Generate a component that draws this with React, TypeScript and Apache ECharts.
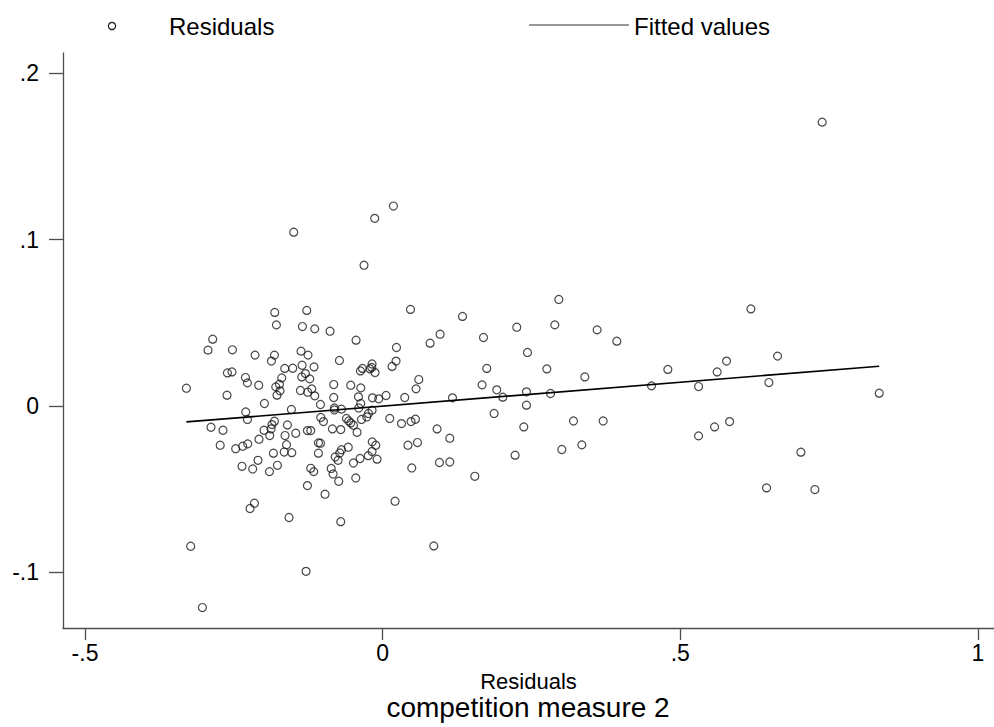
import React, { useEffect, useRef } from 'react';
import * as echarts from 'echarts';

const residualX = [
  -0.3297, -0.2855, -0.2934, -0.2524, -0.2144, -0.1818, -0.1869, -0.1371, -0.1254, -0.1354,
  -0.1153, -0.1645, -0.1511, -0.1297, -0.1359, -0.1225, -0.2608, -0.2531, -0.2305, -0.2272,
  -0.2082, -0.1696, -0.1734, -0.1796, -0.1724, -0.1775, -0.1381, -0.1259, -0.1191, -0.1141,
  -0.2615, -0.1986, -0.1533, -0.1045, -0.2300, -0.2272, -0.1818, -0.1859, -0.1993, -0.1875,
  -0.1600, -0.1040, -0.0995, -0.2884, -0.2682, -0.1460, -0.1264, -0.1208, -0.1640, -0.1897,
  -0.2077, -0.2729, -0.2469, -0.2351, -0.2267, -0.1835, -0.1654, -0.1527, -0.1615, -0.1079,
  -0.1045, -0.1079, -0.2094, -0.1813, -0.1275, -0.1785, -0.1348, -0.1141, -0.2363, -0.2183,
  -0.1902, -0.1768, -0.1208, -0.1158, -0.1264, -0.0968, -0.2154, -0.2228, -0.1573, -0.3225,
  -0.1287, -0.3028, -0.0864, 0.0467, 0.1341, -0.0884, -0.0447, 0.0965, 0.0797, 0.0232,
  0.0225, 0.0158, -0.0726, -0.0178, -0.0373, -0.0339, -0.0212, -0.0183, -0.0128, 0.0607,
  0.0561, -0.0822, -0.0536, -0.0368, -0.0822, -0.0407, -0.0171, -0.0066, 0.0057, 0.0371,
  0.1173, -0.0810, -0.0810, -0.0692, -0.0368, -0.0402, -0.0178, -0.0608, -0.0570, -0.0536,
  -0.0491, -0.0239, -0.0267, -0.0356, 0.0119, 0.0316, 0.0477, 0.0551, -0.0844, -0.0704,
  -0.0430, 0.0914, 0.1128, -0.0175, -0.0116, 0.0425, 0.0585, -0.0578, -0.0692, -0.0721,
  -0.0797, -0.0749, -0.0178, -0.0242, -0.0094, -0.0380, -0.0491, -0.0833, -0.0738, -0.0452,
  0.0489, 0.0954, 0.1128, 0.0208, -0.0704, 0.0859, 0.0181, -0.0133, -0.0313, 0.2959,
  0.2253, 0.2892, 0.3603, 0.3934, 0.1694, 0.2433, 0.1749, 0.2758, 0.3396, 0.4791,
  0.1670, 0.1917, 0.2018, 0.2416, 0.2820, 0.4517, 0.2416, 0.1872, 0.2371, 0.3206,
  0.3704, 0.2225, 0.3010, 0.3346, 0.1548, 0.6186, 0.5777, 0.5619, 0.6634, 0.5307,
  0.6488, 0.8342, 0.5828, 0.5576, 0.5307, 0.7026, 0.6449, 0.7261, 0.7384, -0.1494,
];

const residualY = [
  0.0106, 0.0401, 0.0335, 0.0337, 0.0305, 0.0305, 0.0269, 0.0329, 0.0305, 0.0244,
  0.0234, 0.0225, 0.0226, 0.0194, 0.0174, 0.0162, 0.0198, 0.0204, 0.0170, 0.0138,
  0.0124, 0.0168, 0.0130, 0.0114, 0.0090, 0.0064, 0.0092, 0.0082, 0.0102, 0.0060,
  0.0064, 0.0014, -0.0022, 0.0008, -0.0037, -0.0082, -0.0093, -0.0113, -0.0147, -0.0139,
  -0.0115, -0.0070, -0.0095, -0.0129, -0.0147, -0.0165, -0.0149, -0.0149, -0.0179, -0.0179,
  -0.0201, -0.0237, -0.0258, -0.0243, -0.0229, -0.0285, -0.0278, -0.0282, -0.0234, -0.0223,
  -0.0225, -0.0285, -0.0328, 0.0562, 0.0574, 0.0487, 0.0477, 0.0463, -0.0364, -0.0380,
  -0.0396, -0.0358, -0.0376, -0.0396, -0.0480, -0.0532, -0.0586, -0.0618, -0.0672, -0.0845,
  -0.0996, -0.1214, -0.0377, 0.0580, 0.0538, 0.0449, 0.0395, 0.0431, 0.0377, 0.0351,
  0.0269, 0.0237, 0.0273, 0.0252, 0.0210, 0.0225, 0.0222, 0.0231, 0.0200, 0.0158,
  0.0102, 0.0128, 0.0124, 0.0108, 0.0050, 0.0054, 0.0048, 0.0042, 0.0062, 0.0050,
  0.0048, -0.0013, -0.0025, -0.0020, 0.0014, -0.0013, -0.0026, -0.0076, -0.0091, -0.0103,
  -0.0117, -0.0046, -0.0067, -0.0082, -0.0076, -0.0107, -0.0095, -0.0081, -0.0139, -0.0143,
  -0.0159, -0.0139, -0.0195, -0.0217, -0.0237, -0.0237, -0.0221, -0.0249, -0.0264, -0.0284,
  -0.0308, -0.0328, -0.0275, -0.0300, -0.0321, -0.0317, -0.0344, -0.0410, -0.0454, -0.0434,
  -0.0374, -0.0341, -0.0338, -0.0574, -0.0697, -0.0843, 0.1202, 0.1128, 0.0846, 0.0640,
  0.0473, 0.0487, 0.0457, 0.0389, 0.0411, 0.0321, 0.0225, 0.0222, 0.0174, 0.0219,
  0.0126, 0.0096, 0.0052, 0.0084, 0.0074, 0.0120, 0.0004, -0.0046, -0.0127, -0.0091,
  -0.0091, -0.0297, -0.0263, -0.0235, -0.0424, 0.0583, 0.0269, 0.0204, 0.0299, 0.0116,
  0.0140, 0.0076, -0.0095, -0.0127, -0.0181, -0.0279, -0.0494, -0.0504, 0.1707, 0.1045,
];

const fittedX = [-0.3297, 0.8342];
const fittedY = [-0.0097, 0.0238];

const xTicks = [-0.5, 0, 0.5, 1];
const yTicks = [-0.1, 0, 0.1, 0.2];

const legendLabels = ['Residuals', 'Fitted values'];
const xTitle = 'Residuals';
const subTitle = 'competition measure 2';

const FONT = "'Liberation Sans', Arial, Helvetica, sans-serif";

const fmt = (v: number) => {
  if (Math.abs(v) < 1e-9) return '0';
  const s = String(Math.round(v * 1000) / 1000);
  return s.replace(/^(-?)0\./, '$1.');
};

export default function App() {
  const ref = useRef<HTMLDivElement>(null);
  useEffect(() => {
    const chart = echarts.init(ref.current!, null, { renderer: 'svg' });
    const axisColor = '#4d4d4d';
    chart.setOption({
      animation: false,
      backgroundColor: '#ffffff',
      textStyle: { fontFamily: FONT, color: '#000' },
      grid: { left: 63, right: 0, top: 53, bottom: 99, containLabel: false },
      xAxis: {
        type: 'value',
        min: -0.537,
        max: 1.027,
        name: xTitle,
        nameLocation: 'middle',
        nameGap: 42,
        nameTextStyle: { fontFamily: FONT, fontSize: 22, color: '#000' },
        axisLine: { show: true, onZero: false, lineStyle: { color: axisColor, width: 1.3 } },
        axisTick: { show: true, customValues: xTicks, length: 12, inside: false, lineStyle: { color: axisColor, width: 1.3 } },
        axisLabel: { customValues: xTicks, formatter: fmt, fontSize: 23, margin: 13, color: '#000', fontFamily: FONT },
        splitLine: { show: false },
      },
      yAxis: {
        type: 'value',
        min: -0.1337,
        max: 0.2123,
        axisLine: { show: true, onZero: false, lineStyle: { color: axisColor, width: 1.3 } },
        axisTick: { show: true, customValues: yTicks, length: 14, inside: false, lineStyle: { color: axisColor, width: 1.3 } },
        axisLabel: { customValues: yTicks, formatter: fmt, fontSize: 23, margin: 24, color: '#000', fontFamily: FONT },
        splitLine: { show: false },
      },
      graphic: [
        {
          type: 'circle',
          shape: { cx: 112, cy: 26, r: 3.6 },
          style: { fill: 'none', stroke: '#1a1a1a', lineWidth: 1.2 },
          silent: true,
        },
        {
          type: 'text',
          x: 169,
          y: 26,
          style: { text: legendLabels[0], fontSize: 24, fontFamily: FONT, fill: '#000', textVerticalAlign: 'middle' },
          silent: true,
        },
        {
          type: 'line',
          shape: { x1: 529, y1: 25, x2: 629, y2: 25 },
          style: { stroke: '#333', lineWidth: 1.2 },
          silent: true,
        },
        {
          type: 'text',
          x: 634,
          y: 26,
          style: { text: legendLabels[1], fontSize: 24, fontFamily: FONT, fill: '#000', textVerticalAlign: 'middle' },
          silent: true,
        },
        {
          type: 'text',
          x: 528,
          y: 707,
          style: {
            text: subTitle,
            fontSize: 28,
            fontFamily: FONT,
            fill: '#000',
            textAlign: 'center',
            textVerticalAlign: 'middle',
          },
          silent: true,
        },
      ],
      series: [
        {
          name: legendLabels[0],
          type: 'scatter',
          silent: true,
          symbol: 'circle',
          symbolSize: 8,
          itemStyle: { color: 'rgba(0,0,0,0)', borderColor: '#1a1a1a', borderWidth: 1.2 },
          data: residualX.map((x, i) => [x, residualY[i]]),
        },
        {
          name: legendLabels[1],
          type: 'line',
          silent: true,
          symbol: 'none',
          itemStyle: { color: '#000' },
          lineStyle: { color: '#000', width: 1.7 },
          data: fittedX.map((x, i) => [x, fittedY[i]]),
        },
      ],
    });
    return () => chart.dispose();
  }, []);
  return (
    <div
      ref={ref}
      style={{ position: 'absolute', left: 0, top: 0, width: 994, height: 727, background: '#fff' }}
    />
  );
}
